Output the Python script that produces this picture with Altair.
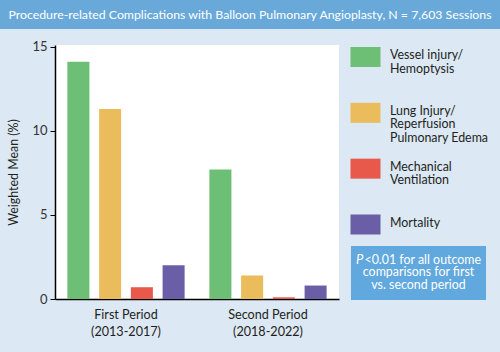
import altair as alt
import pandas as pd

# ---------------- data ----------------
title_text = "Procedure-related Complications with Balloon Pulmonary Angioplasty, N = 7,603 Sessions"
periods = ["First Period", "Second Period"]
period_years = ["(2013-2017)", "(2018-2022)"]
outcomes = [
    "Vessel injury/\nHemoptysis",
    "Lung Injury/\nReperfusion\nPulmonary Edema",
    "Mechanical\nVentilation",
    "Mortality",
]
first_period = [14.1, 11.3, 0.7, 2.0]
second_period = [7.7, 1.4, 0.1, 0.8]
colors = ["#6cbf74", "#ebbc5c", "#e8594b", "#6a5ea7"]
y_ticks = [0, 5, 10, 15]
note_p = "P"
note_first = "<0.01 for all outcome"
note_rest = ["comparisons for first", "vs. second period"]

FONT = "Lato"
TXT = "#231f20"
FS = 12.4

period_keys = [p + "\n" + y for p, y in zip(periods, period_years)]
rows = []
for key, vals in zip(period_keys, [first_period, second_period]):
    for o, v in zip(outcomes, vals):
        rows.append({"period": key, "outcome": o, "value": v})
df_bars = pd.DataFrame(rows)
df_leg = pd.DataFrame({"outcome": outcomes, "idx": list(range(len(outcomes)))})
one = pd.DataFrame({"k": [0]})

color = alt.Color("outcome:N", scale=alt.Scale(domain=outcomes, range=colors), legend=None)

bars = alt.Chart(df_bars).mark_bar(strokeWidth=0).encode(
    x=alt.X(
        "period:N", sort=period_keys,
        scale=alt.Scale(paddingInner=0, paddingOuter=0),
        axis=alt.Axis(
            title=None, labelAngle=0, ticks=False, domainColor="#000000", domainWidth=1.5,
            labelExpr="split(datum.label, '\\n')", labelFont=FONT, labelFontSize=FS + 0.2,
            labelLineHeight=17, labelPadding=9, labelColor=TXT, labelBaseline="top",
        ),
    ),
    xOffset=alt.XOffset("outcome:N", sort=outcomes,
                        scale=alt.Scale(paddingInner=0.306, paddingOuter=0.39)),
    y=alt.Y(
        "value:Q", scale=alt.Scale(domain=[0, 15.1], nice=False),
        axis=alt.Axis(
            values=y_ticks, grid=False, title="Weighted Mean (%)", titleFont=FONT,
            titleFontSize=FS, titleFontWeight="normal", titleColor=TXT, titlePadding=11,
            labelFont=FONT, labelFontSize=FS + 0.6, labelColor="#333333", labelPadding=3,
            tickSize=5, tickColor="#000000", domainColor="#000000", domainWidth=1.5,
        ),
    ),
    color=color,
)

leg_y = alt.Y("idx:Q", scale=alt.Scale(domain=[0, 3], range=[12, 179.5]), axis=None)
leg_pts = alt.Chart(df_leg).mark_point(
    shape="M-1.5,-1H1.5V1H-1.5Z", size=400, filled=True, opacity=1, strokeWidth=0
).encode(x=alt.value(310.5), y=leg_y, color=color)
leg_txt = alt.Chart(df_leg).mark_text(
    align="left", baseline="alphabetic", lineBreak="\n", lineHeight=13.5,
    font=FONT, fontSize=FS, color=TXT, dy=2,
).encode(x=alt.value(335), y=leg_y, text="outcome:N")
legend = alt.layer(leg_pts, leg_txt)

title_bar = alt.Chart(one).mark_rect(color="#69a9da").encode(
    x=alt.value(-55), x2=alt.value(445), y=alt.value(-45), y2=alt.value(-16)
)
title_txt = alt.Chart(pd.DataFrame({"t": [title_text]})).mark_text(
    align="center", baseline="alphabetic", font=FONT, fontSize=12.3, color="#ffffff"
).encode(x=alt.value(195), y=alt.value(-26), text="t:N")

note_box = alt.Chart(one).mark_rect(color="#60a8dd").encode(
    x=alt.value(296), x2=alt.value(431), y=alt.value(201), y2=alt.value(255)
)
note_p_txt = alt.Chart(pd.DataFrame({"t": [note_p]})).mark_text(
    align="left", baseline="alphabetic", font=FONT, fontSize=FS + 0.6, fontStyle="italic", color="#ffffff"
).encode(x=alt.value(301), y=alt.value(218.5), text="t:N")
note_first_txt = alt.Chart(pd.DataFrame({"t": [note_first]})).mark_text(
    align="left", baseline="alphabetic", font=FONT, fontSize=FS, color="#ffffff"
).encode(x=alt.value(309.5), y=alt.value(218.5), text="t:N")
note_rest_txt = alt.Chart(pd.DataFrame({"t": ["\n".join(note_rest)]})).mark_text(
    align="center", baseline="alphabetic", font=FONT, fontSize=FS, color="#ffffff",
    lineBreak="\n", lineHeight=13,
).encode(x=alt.value(363.5), y=alt.value(231), text="t:N")

chart = alt.layer(
    title_bar, title_txt, bars, legend, note_box, note_p_txt, note_first_txt, note_rest_txt
).resolve_scale(y="independent").properties(
    width=284, height=254,
    autosize=alt.AutoSizeParams(type="none"),
    padding={"left": 55, "top": 45, "right": 161, "bottom": 53},
    background="#dce8f4",
).configure_view(fill="#ffffff", stroke=None)

chart.save("out.html", embed_options={"renderer": "svg", "actions": False})
